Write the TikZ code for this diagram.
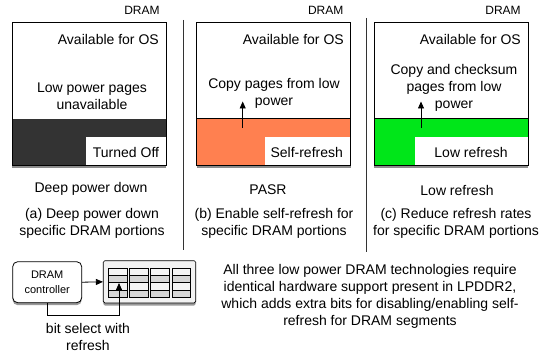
\documentclass[tikz,border=0pt]{standalone}
\usepackage{fontspec}
\setmainfont{Liberation Sans}
\usetikzlibrary{shadows,arrows.meta}
\definecolor{darkpart}{HTML}{333333}
\definecolor{orangepart}{HTML}{FF8050}
\definecolor{greenpart}{HTML}{00E619}
\definecolor{gridbg}{HTML}{F2F2F2}
\definecolor{cellA}{HTML}{F4F4F4}
\definecolor{cellB}{HTML}{D6D6D6}
\tikzset{
  memb/.style={draw=black, line width=0.9pt, fill=white, anchor=north west, inner sep=0pt, outer sep=0pt,
    minimum width=154pt, minimum height=142.5pt,
    drop shadow={shadow xshift=0pt, shadow yshift=-3pt, opacity=0.45, fill=black}},
  lowpart/.style={anchor=south west, inner sep=0pt, outer sep=0pt, minimum width=154pt, minimum height=46.5pt},
  lbl/.style={fill=white, anchor=south east, inner sep=0pt, outer sep=0pt, minimum height=28pt},
  txt/.style={font=\fontsize{14}{17}\selectfont, align=center, inner sep=0pt},
  smalltxt/.style={font=\fontsize{11}{14.5}\selectfont, align=center, inner sep=0pt},
  dramtxt/.style={font=\fontsize{12}{14}\selectfont, inner sep=0pt},
  sep/.style={line width=0.7pt, draw=black!80},
  arr/.style={line width=0.8pt, -{Triangle[length=7pt,width=6pt]}},
}
\begin{document}
\begin{tikzpicture}[x=1pt,y=-1pt]
\useasboundingbox (0,0) rectangle (543,358);

% separators
\coordinate (s1t) at (183,20); \coordinate (s1b) at (183,250);
\coordinate (s2t) at (366,18); \coordinate (s2b) at (366,252);
\draw[sep] (s1t) -- (s1b);
\draw[sep] (s2t) -- (s2b);

% ---------- Box 1
\node[dramtxt] (d1) at (142,10.3) {DRAM};
\node[memb] (b1) at (12,22.7) {};
\node[lowpart, fill=darkpart] (b1l) at (b1.south west) {};
\node[lbl, minimum width=80pt] (b1w) at (b1.south east) {};
\draw[line width=0.9pt] (b1.north west) rectangle (b1.south east);
\node[txt, anchor=east] (a1) at (159,39) {Available for OS};
\node[txt] (t1) at (92,96) {Low power pages\\unavailable};
\node[txt] (o1) at (126,152) {Turned Off};

% ---------- Box 2
\node[dramtxt] (d2) at (325.7,10.3) {DRAM};
\node[memb] (b2) at (196.5,22.7) {};
\node[lowpart, fill=orangepart] (b2l) at (b2.south west) {};
\node[lbl, minimum width=86pt] (b2w) at (b2.south east) {};
\draw[line width=0.9pt] (b2.north west) rectangle (b2.south east);
\draw[line width=0.9pt] (b2l.north west) -- (b2l.north east);
\node[txt, anchor=east] (a2) at (344,39) {Available for OS};
\node[txt] (t2) at (274,93.5) {Copy pages from low\\power};
\node[txt] (o2) at (306.7,152) {Self-refresh};
\coordinate (p2s) at (242.7,128);
\draw[arr] (p2s) -- (242.7,101.5);

% ---------- Box 3
\node[dramtxt] (d3) at (503,10.3) {DRAM};
\node[memb] (b3) at (374,22.7) {};
\node[lowpart, fill=greenpart] (b3l) at (b3.south west) {};
\node[lbl, minimum width=113pt] (b3w) at (b3.south east) {};
\draw[line width=0.9pt] (b3.north west) rectangle (b3.south east);
\draw[line width=0.9pt] (b3l.north west) -- (b3l.north east);
\node[txt, anchor=east] (a3) at (521,39) {Available for OS};
\node[txt] (t3) at (454,87.5) {Copy and checksum\\pages from low\\power};
\node[txt] (o3) at (471,152) {Low refresh};
\coordinate (p3s) at (421,128);
\draw[arr] (p3s) -- (421,101.5);

% ---------- captions
\node[txt] (n1) at (91,189) {Deep power down};
\node[txt] (n2) at (268,190) {PASR};
\node[txt] (n3) at (457,190) {Low refresh};
\node[txt] (c1) at (92,223.5) {(a) Deep power down\\specific DRAM portions};
\node[txt] (c2) at (274,223.5) {(b) Enable self-refresh for\\specific DRAM portions};
\node[txt] (c3) at (456,223.5) {(c) Reduce refresh rates\\for specific DRAM portions};

% ---------- bottom: controller and grid
\node[draw=black, line width=0.8pt, fill=white, rounded corners=5pt, minimum width=69pt, minimum height=41pt,
  inner sep=0pt, smalltxt, drop shadow={shadow xshift=0pt, shadow yshift=-2.5pt, opacity=0.4, fill=black}]
  (ctrl) at (47.2,282.2) {DRAM\\controller};
\node[draw=black, line width=0.7pt, fill=gridbg, rounded corners=1.5pt, minimum width=92.4pt, minimum height=42.3pt,
  inner sep=0pt, drop shadow={shadow xshift=0pt, shadow yshift=-2.5pt, opacity=0.4, fill=black}]
  (grid) at (149.5,281.85) {};
\foreach \i in {0,1,2,3}{
  \foreach \j/\c in {0/cellA,1/cellB,2/cellA,3/cellB}{
    \filldraw[fill=\c, draw=black, line width=0.5pt]
      (108.5+21.1*\i, 268+7.33*\j) rectangle ++(18.7,7.33);
  }
}
\draw[arr] (ctrl.east) -- (grid.west);
\coordinate (bs1) at (47.7,315);
\coordinate (bs2) at (119,315);
\coordinate (bstip) at (119,283);
\draw[arr] (ctrl.south -| bs1) -- (bs1) -- (bs2) -- (bstip);
\node[txt] (bsl) at (88,336.5) {bit select with\\refresh};

\node[txt] (para) at (370,296) {All three low power DRAM technologies require\\identical hardware support present in LPDDR2,\\which adds extra bits for disabling/enabling self-\\refresh for DRAM segments};
\end{tikzpicture}
\end{document}
